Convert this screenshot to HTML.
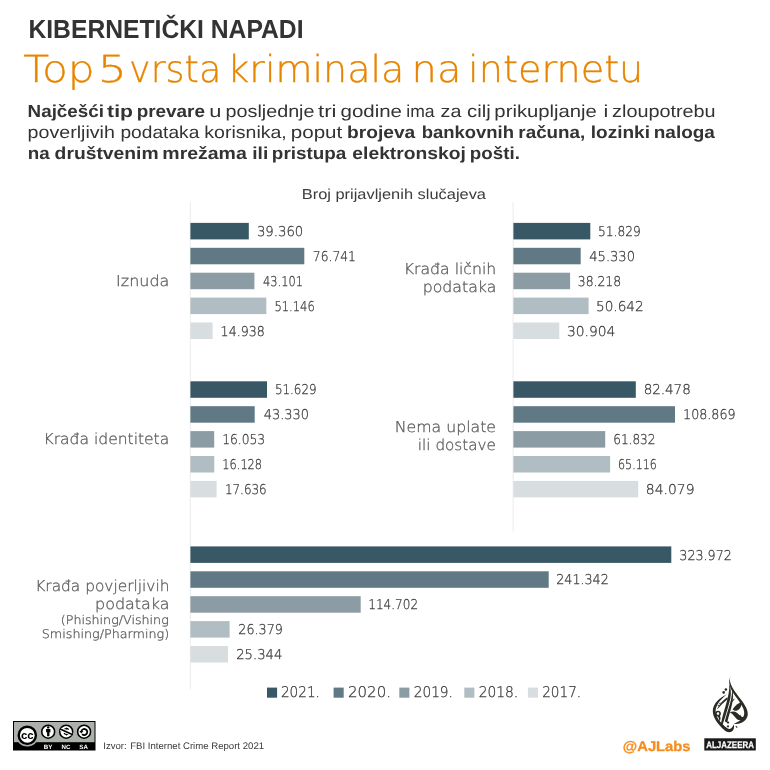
<!DOCTYPE html>
<html lang="bs">
<head>
<meta charset="utf-8">
<title>Kibernetički napadi – Top 5 vrsta kriminala na internetu</title>
<style>
html,body{margin:0;padding:0;background:#fff}
body{width:770px;height:770px;overflow:hidden}
svg{display:block;font-family:"Liberation Sans",Arial,sans-serif;text-rendering:geometricPrecision}
.lt{font-family:"DejaVu Sans","Liberation Sans",sans-serif;font-weight:200}
</style>
</head>
<body>
<svg width="770" height="770" viewBox="0 0 770 770">
<rect width="770" height="770" fill="#ffffff"/>
<g class="head">
<text x="28.45" y="38.0" font-size="26.0" textLength="275.10" lengthAdjust="spacingAndGlyphs" font-weight="700" fill="#333333">KIBERNETIČKI NAPADI</text>
<g fill="#e88500" stroke="#e88500" stroke-width="0.35" class="sub">
<text x="23.27" y="82.0" font-size="37.3" textLength="71.50" lengthAdjust="spacingAndGlyphs" class="lt">Top</text>
<text x="97.89" y="82.0" font-size="37.3" textLength="29.10" lengthAdjust="spacingAndGlyphs" class="lt">5</text>
<text x="129.09" y="82.0" font-size="37.3" textLength="92.14" lengthAdjust="spacingAndGlyphs" class="lt">vrsta</text>
<text x="227.27" y="82.0" font-size="37.3" textLength="177.04" lengthAdjust="spacingAndGlyphs" class="lt">kriminala</text>
<text x="411.57" y="82.0" font-size="37.3" textLength="49.86" lengthAdjust="spacingAndGlyphs" class="lt">na</text>
<text x="468.11" y="82.0" font-size="37.3" textLength="175.22" lengthAdjust="spacingAndGlyphs" class="lt">internetu</text>
</g>
<g fill="#333333">
<g>
<text x="27.64" y="117.0" font-size="17.3" textLength="76.29" lengthAdjust="spacingAndGlyphs" font-weight="700">Najčešći</text>
<text x="107.14" y="117.0" font-size="17.3" textLength="25.83" lengthAdjust="spacingAndGlyphs" font-weight="700">tip</text>
<text x="136.65" y="117.0" font-size="17.3" textLength="68.29" lengthAdjust="spacingAndGlyphs" font-weight="700">prevare</text>
<text x="209.28" y="117.0" font-size="17.3" textLength="12.18" lengthAdjust="spacingAndGlyphs">u</text>
<text x="225.63" y="117.0" font-size="17.3" textLength="88.85" lengthAdjust="spacingAndGlyphs">posljednje</text>
<text x="317.96" y="117.0" font-size="17.3" textLength="18.54" lengthAdjust="spacingAndGlyphs">tri</text>
<text x="340.54" y="117.0" font-size="17.3" textLength="61.47" lengthAdjust="spacingAndGlyphs">godine</text>
<text x="406.22" y="117.0" font-size="17.3" textLength="28.38" lengthAdjust="spacingAndGlyphs">ima</text>
<text x="440.60" y="117.0" font-size="17.3" textLength="20.80" lengthAdjust="spacingAndGlyphs">za</text>
<text x="467.04" y="117.0" font-size="17.3" textLength="23.63" lengthAdjust="spacingAndGlyphs">cilj</text>
<text x="494.39" y="117.0" font-size="17.3" textLength="102.51" lengthAdjust="spacingAndGlyphs">prikupljanje</text>
<text x="603.55" y="117.0" font-size="17.3" textLength="4.80" lengthAdjust="spacingAndGlyphs">i</text>
<text x="612.10" y="117.0" font-size="17.3" textLength="103.52" lengthAdjust="spacingAndGlyphs">zloupotrebu</text>
</g>
<g>
<text x="27.64" y="138.0" font-size="17.3" textLength="87.24" lengthAdjust="spacingAndGlyphs">poverljivih</text>
<text x="120.47" y="138.0" font-size="17.3" textLength="78.83" lengthAdjust="spacingAndGlyphs">podataka</text>
<text x="204.39" y="138.0" font-size="17.3" textLength="82.37" lengthAdjust="spacingAndGlyphs">korisnika,</text>
<text x="290.77" y="138.0" font-size="17.3" textLength="51.48" lengthAdjust="spacingAndGlyphs">poput</text>
<text x="347.04" y="138.0" font-size="17.3" textLength="68.24" lengthAdjust="spacingAndGlyphs" font-weight="700">brojeva</text>
<text x="421.68" y="138.0" font-size="17.3" textLength="92.36" lengthAdjust="spacingAndGlyphs" font-weight="700">bankovnih</text>
<text x="518.36" y="138.0" font-size="17.3" textLength="66.90" lengthAdjust="spacingAndGlyphs" font-weight="700">računa,</text>
<text x="590.77" y="138.0" font-size="17.3" textLength="59.17" lengthAdjust="spacingAndGlyphs" font-weight="700">lozinki</text>
<text x="653.75" y="138.0" font-size="17.3" textLength="61.13" lengthAdjust="spacingAndGlyphs" font-weight="700">naloga</text>
</g>
<g>
<text x="27.66" y="159.0" font-size="17.3" textLength="21.92" lengthAdjust="spacingAndGlyphs" font-weight="700">na</text>
<text x="54.61" y="159.0" font-size="17.3" textLength="103.99" lengthAdjust="spacingAndGlyphs" font-weight="700">društvenim</text>
<text x="162.32" y="159.0" font-size="17.3" textLength="84.46" lengthAdjust="spacingAndGlyphs" font-weight="700">mrežama</text>
<text x="252.26" y="159.0" font-size="17.3" textLength="16.00" lengthAdjust="spacingAndGlyphs" font-weight="700">ili</text>
<text x="271.86" y="159.0" font-size="17.3" textLength="74.42" lengthAdjust="spacingAndGlyphs" font-weight="700">pristupa</text>
<text x="352.35" y="159.0" font-size="17.3" textLength="113.61" lengthAdjust="spacingAndGlyphs" font-weight="700">elektronskoj</text>
<text x="469.86" y="159.0" font-size="17.3" textLength="50.03" lengthAdjust="spacingAndGlyphs" font-weight="700">pošti.</text>
</g>
</g>
</g>
<text x="301.75" y="198.7" font-size="14.4" textLength="184.25" lengthAdjust="spacingAndGlyphs" fill="#3c3c3c">Broj prijavljenih slučajeva</text>
<rect x="189.8" y="202" width="1" height="487.5" fill="#ebebeb"/>
<rect x="512.6" y="202" width="1" height="329.5" fill="#ebebeb"/>
<g class="bars">
<rect x="190.4" y="222.9" width="58.4" height="16.5" fill="#395866"/>
<rect x="190.4" y="247.8" width="113.9" height="16.5" fill="#617985"/>
<rect x="190.4" y="272.7" width="64.0" height="16.5" fill="#8b9ca4"/>
<rect x="190.4" y="297.6" width="75.9" height="16.5" fill="#b0bdc2"/>
<rect x="190.4" y="322.5" width="22.2" height="16.5" fill="#d8dee0"/>
<rect x="513.4" y="222.9" width="76.9" height="16.5" fill="#395866"/>
<rect x="513.4" y="247.8" width="67.3" height="16.5" fill="#617985"/>
<rect x="513.4" y="272.7" width="56.7" height="16.5" fill="#8b9ca4"/>
<rect x="513.4" y="297.6" width="75.2" height="16.5" fill="#b0bdc2"/>
<rect x="513.4" y="322.5" width="45.9" height="16.5" fill="#d8dee0"/>
<rect x="190.4" y="381.3" width="76.6" height="16.5" fill="#395866"/>
<rect x="190.4" y="406.2" width="64.3" height="16.5" fill="#617985"/>
<rect x="190.4" y="431.1" width="23.8" height="16.5" fill="#8b9ca4"/>
<rect x="190.4" y="456.0" width="23.9" height="16.5" fill="#b0bdc2"/>
<rect x="190.4" y="480.9" width="26.2" height="16.5" fill="#d8dee0"/>
<rect x="513.4" y="381.3" width="122.4" height="16.5" fill="#395866"/>
<rect x="513.4" y="406.2" width="161.6" height="16.5" fill="#617985"/>
<rect x="513.4" y="431.1" width="91.8" height="16.5" fill="#8b9ca4"/>
<rect x="513.4" y="456.0" width="96.7" height="16.5" fill="#b0bdc2"/>
<rect x="513.4" y="480.9" width="124.8" height="16.5" fill="#d8dee0"/>
<rect x="190.4" y="546.4" width="480.9" height="16.5" fill="#395866"/>
<rect x="190.4" y="571.3" width="358.3" height="16.5" fill="#617985"/>
<rect x="190.4" y="596.2" width="170.3" height="16.5" fill="#8b9ca4"/>
<rect x="190.4" y="621.1" width="39.2" height="16.5" fill="#b0bdc2"/>
<rect x="190.4" y="646.0" width="37.6" height="16.5" fill="#d8dee0"/>
</g>
<g class="vals lt" fill="#404040" stroke="#404040" stroke-width="0.3">
<text x="256.89" y="236.1" font-size="13.5" textLength="46.44" lengthAdjust="spacingAndGlyphs">39.360</text>
<text x="312.79" y="260.9" font-size="13.5" textLength="43.15" lengthAdjust="spacingAndGlyphs">76.741</text>
<text x="263.04" y="285.8" font-size="13.5" textLength="39.89" lengthAdjust="spacingAndGlyphs">43.101</text>
<text x="274.46" y="310.8" font-size="13.5" textLength="40.34" lengthAdjust="spacingAndGlyphs">51.146</text>
<text x="220.61" y="335.6" font-size="13.5" textLength="44.18" lengthAdjust="spacingAndGlyphs">14.938</text>
<text x="597.99" y="236.1" font-size="13.5" textLength="42.77" lengthAdjust="spacingAndGlyphs">51.829</text>
<text x="589.26" y="260.9" font-size="13.5" textLength="45.75" lengthAdjust="spacingAndGlyphs">45.330</text>
<text x="577.75" y="285.8" font-size="13.5" textLength="43.42" lengthAdjust="spacingAndGlyphs">38.218</text>
<text x="596.06" y="310.8" font-size="13.5" textLength="47.60" lengthAdjust="spacingAndGlyphs">50.642</text>
<text x="566.94" y="335.6" font-size="13.5" textLength="48.46" lengthAdjust="spacingAndGlyphs">30.904</text>
<text x="274.92" y="394.4" font-size="13.5" textLength="41.71" lengthAdjust="spacingAndGlyphs">51.629</text>
<text x="263.77" y="419.3" font-size="13.5" textLength="45.23" lengthAdjust="spacingAndGlyphs">43.330</text>
<text x="222.25" y="444.2" font-size="13.5" textLength="42.94" lengthAdjust="spacingAndGlyphs">16.053</text>
<text x="222.35" y="469.1" font-size="13.5" textLength="39.72" lengthAdjust="spacingAndGlyphs">16.128</text>
<text x="224.89" y="494.0" font-size="13.5" textLength="41.85" lengthAdjust="spacingAndGlyphs">17.636</text>
<text x="643.63" y="394.4" font-size="13.5" textLength="47.15" lengthAdjust="spacingAndGlyphs">82.478</text>
<text x="683.11" y="419.3" font-size="13.5" textLength="52.39" lengthAdjust="spacingAndGlyphs">108.869</text>
<text x="613.23" y="444.2" font-size="13.5" textLength="42.28" lengthAdjust="spacingAndGlyphs">61.832</text>
<text x="618.02" y="469.1" font-size="13.5" textLength="38.84" lengthAdjust="spacingAndGlyphs">65.116</text>
<text x="645.79" y="494.0" font-size="13.5" textLength="48.72" lengthAdjust="spacingAndGlyphs">84.079</text>
<text x="679.33" y="559.5" font-size="13.5" textLength="52.54" lengthAdjust="spacingAndGlyphs">323.972</text>
<text x="556.22" y="584.4" font-size="13.5" textLength="52.55" lengthAdjust="spacingAndGlyphs">241.342</text>
<text x="368.28" y="609.3" font-size="13.5" textLength="49.83" lengthAdjust="spacingAndGlyphs">114.702</text>
<text x="238.32" y="634.2" font-size="13.5" textLength="44.59" lengthAdjust="spacingAndGlyphs">26.379</text>
<text x="236.19" y="659.1" font-size="13.5" textLength="46.17" lengthAdjust="spacingAndGlyphs">25.344</text>
</g>
<g class="cats lt" fill="#5e5e5e" stroke="#5e5e5e" stroke-width="0.3">
<text x="116.07" y="286.1" font-size="15.0" textLength="53.24" lengthAdjust="spacingAndGlyphs">Iznuda</text>
<text x="43.51" y="444.4" font-size="15.0" textLength="125.75" lengthAdjust="spacingAndGlyphs">Krađa identiteta</text>
<text x="403.69" y="274.0" font-size="15.0" textLength="92.60" lengthAdjust="spacingAndGlyphs">Krađa ličnih</text>
<text x="422.70" y="292.2" font-size="15.0" textLength="73.69" lengthAdjust="spacingAndGlyphs">podataka</text>
<text x="394.80" y="432.4" font-size="15.0" textLength="101.19" lengthAdjust="spacingAndGlyphs">Nema uplate</text>
<text x="417.89" y="450.4" font-size="15.0" textLength="78.06" lengthAdjust="spacingAndGlyphs">ili dostave</text>
<text x="35.24" y="590.8" font-size="15.0" textLength="134.21" lengthAdjust="spacingAndGlyphs">Krađa povjerljivih</text>
<text x="95.08" y="608.9" font-size="15.0" textLength="74.53" lengthAdjust="spacingAndGlyphs">podataka</text>
<text x="60.81" y="624.0" font-size="11.9" textLength="107.98" lengthAdjust="spacingAndGlyphs">(Phishing/Vishing</text>
<text x="41.77" y="638.0" font-size="11.9" textLength="127.34" lengthAdjust="spacingAndGlyphs">Smishing/Pharming)</text>
</g>
<g class="legend lt" fill="#404040" stroke="#404040" stroke-width="0.3">
<rect x="267.0" y="687.6" width="10.1" height="10.1" fill="#395866" stroke="none"/>
<text x="280.96" y="697.0" font-size="14.7" textLength="38.97" lengthAdjust="spacingAndGlyphs">2021.</text>
<rect x="333.6" y="687.6" width="10.1" height="10.1" fill="#617985" stroke="none"/>
<text x="347.96" y="697.0" font-size="14.7" textLength="43.06" lengthAdjust="spacingAndGlyphs">2020.</text>
<rect x="399.3" y="687.6" width="10.1" height="10.1" fill="#8b9ca4" stroke="none"/>
<text x="413.75" y="697.0" font-size="14.7" textLength="39.19" lengthAdjust="spacingAndGlyphs">2019.</text>
<rect x="464.3" y="687.6" width="10.1" height="10.1" fill="#b0bdc2" stroke="none"/>
<text x="478.74" y="697.0" font-size="14.7" textLength="39.51" lengthAdjust="spacingAndGlyphs">2018.</text>
<rect x="527.9" y="687.6" width="10.1" height="10.1" fill="#d8dee0" stroke="none"/>
<text x="542.16" y="697.0" font-size="14.7" textLength="38.97" lengthAdjust="spacingAndGlyphs">2017.</text>
</g>
<text x="103.32" y="748.9" font-size="9.5" textLength="23.35" lengthAdjust="spacingAndGlyphs" fill="#3a3a3a">Izvor:</text>
<text x="130.21" y="748.9" font-size="9.5" textLength="133.86" lengthAdjust="spacingAndGlyphs" fill="#3a3a3a">FBI Internet Crime Report 2021</text>
<g stroke="#f58e1e" stroke-width="0.3">
<text x="622.86" y="750.5" font-size="14.1" textLength="67.65" lengthAdjust="spacingAndGlyphs" font-weight="700" fill="#f58e1e">@AJLabs</text>
</g>
<g class="cc">
<rect x="13.5" y="721.5" width="81.5" height="28.5" fill="#abb1aa" stroke="#000" stroke-width="1"/>
<rect x="13.5" y="742.2" width="81.5" height="7.8" fill="#000"/>
<circle cx="27.3" cy="735.3" r="11.3" fill="#abb1aa"/>
<circle cx="27.3" cy="735.3" r="8.6" fill="#fff" stroke="#000" stroke-width="2.4"/>
<text x="27.3" y="738.9" font-size="11" font-weight="700" text-anchor="middle" fill="#000" textLength="12.6" lengthAdjust="spacingAndGlyphs">cc</text>
<g fill="#fff" stroke="#000" stroke-width="1.55">
<circle cx="48.2" cy="731.7" r="6.45"/><circle cx="66.2" cy="731.7" r="6.45"/><circle cx="84.1" cy="731.7" r="6.45"/>
</g>
<!-- BY person -->
<circle cx="48.2" cy="727.4" r="1.2" fill="#000"/>
<path d="M46.1 729h4.3v3.3h-1v4h-2.3v-4h-1z" fill="#000"/>
<!-- NC -->
<text x="66.3" y="735.4" font-size="10.5" font-weight="700" text-anchor="middle" fill="#000">$</text>
<path d="M60.6 729.3l11.2 5" stroke="#fff" stroke-width="3.2" fill="none"/><path d="M60.1 729.1l12.2 5.4" stroke="#000" stroke-width="1.6" fill="none"/>
<!-- SA -->
<path d="M81.4 731.2a3 3 0 1 1 0.7 2.9" stroke="#000" stroke-width="1.8" fill="none"/>
<path d="M79.3 730.9l2 2.5 2-2.5z" fill="#000"/>
<g fill="#fff" font-size="6.2" font-weight="700" text-anchor="middle">
<text x="48.1" y="748.6">BY</text><text x="65.9" y="748.6">NC</text><text x="83.6" y="748.6">SA</text>
</g>
</g>
<g class="aj">
<rect x="704.3" y="738.3" width="51.5" height="12.2" fill="#1a1a1a"/>
<text x="706.3" y="748" font-size="9.6" font-weight="700" fill="#fff" stroke="#fff" stroke-width="0.25" textLength="47.6" lengthAdjust="spacingAndGlyphs">ALJAZEERA</text>
<g fill="#2b2b23">
<path d="M731.3 675C727.6 680 731.6 687.5 737.6 695.2C743.2 702.4 748.6 709 747.7 715.2C746.8 721.2 740 725 733.8 723.7C739 722 743.6 718.6 744.2 714C744.8 709 740.6 703 736 697C730.6 690 726.6 682 731.3 675Z"/>
<path d="M726.8 694.4C720 697 712.8 703.5 712.8 711C712.8 718 717.8 723.7 722.8 728.7C725.8 731.7 729 733.1 731.4 731.8C734 730.2 734.6 727 733.7 724.2C732.8 726.6 731.4 728.6 729.5 728.9C727.6 729.1 725.4 727 723 724.5C719 720.5 715.6 716.4 715.6 711C715.6 705.2 720.8 698.8 726.8 694.4Z"/>
<path d="M729.3 684C730 695 723.8 710 721.3 722C720.8 724.6 720.4 726.6 721.6 727.6C723.6 722 728.2 708 730.4 698C731.4 693 730.8 688 729.3 684Z"/>
<path d="M732 688C733 698 727.6 710 724.8 721.6L727.2 722.4C730 711 735.4 699 732 688Z"/>
<path d="M727.2 697.2C722 701 718.2 705.6 717.2 709.6C720 706 723.4 702.6 727.8 699Z"/>
<path d="M732.6 709.6C735.4 705 739 702.6 742.2 701.8C741.8 705 740.8 707.6 738.8 709.6C737 711.2 734.4 711.2 732.6 709.6Z"/>
<path d="M729.8 712.4C734 710.2 737.6 712.4 739.6 715.4C741 717.4 743.2 717.8 745.4 715.6C744.4 720.4 740 721.4 737 719.2C734.8 717.2 733.2 713.8 729.8 712.4Z"/>
<circle cx="718" cy="713.6" r="2.1" fill="none" stroke="#2b2b23" stroke-width="1.6"/>
<path d="M719.6 715.2C721 717.6 720.8 719.6 719.4 721.4C719.2 719.2 718.6 717.6 717.6 716Z"/>
<circle cx="725.9" cy="689.5" r="1.3"/><circle cx="723.7" cy="692.4" r="1.3"/>
<path d="M728 721.1l1.3 1.4-1.3 1.4-1.3-1.4z"/><path d="M728 724.9l1.3 1.4-1.3 1.4-1.3-1.4z"/>
<path d="M740 714.7l1.7 1.7-1.7 1.7-1.7-1.7z"/>
<path d="M736 725.8l1.6 1.3-.6.8-1.5-1.2z"/>
<path d="M731.5 701.5l2.6-3 .6.5-2.4 3.1z"/>
<path d="M719 703.5l1.2-.9.5.6-1.2.9z"/><path d="M717.6 705.6l1.2-.9.5.6-1.2.9z"/>
</g>
</g>

</svg>
</body>
</html>
